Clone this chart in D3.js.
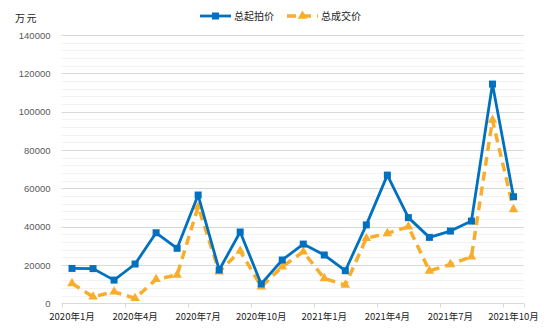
<!DOCTYPE html>
<html><head><meta charset="utf-8">
<script src="https://cdn.jsdelivr.net/npm/d3@7/dist/d3.min.js"></script>
<style>body{margin:0;background:#fff}svg{display:block}</style>
</head><body>
<svg id="c" width="554" height="332"></svg>
<script>
const months = ["2020年1月","2020年2月","2020年3月","2020年4月","2020年5月","2020年6月","2020年7月","2020年8月","2020年9月","2020年10月","2020年11月","2020年12月","2021年1月","2021年2月","2021年3月","2021年4月","2021年5月","2021年6月","2021年7月","2021年8月","2021年9月","2021年10月"];
const startPrice = [18200,18100,12100,20500,36800,28700,56500,17400,37200,10100,22600,30900,25200,17000,40900,66900,44700,34400,37700,42900,114400,55600];
const dealPrice = [10400,3400,6000,2600,12500,14800,50400,16500,27300,8700,19100,26900,13000,9500,33900,36500,40000,16900,20300,24300,95600,49000];
const seriesNames = ["总起拍价","总成交价"];
const yTicks = [0,20000,40000,60000,80000,100000,120000,140000];
const unit = "万元";

const svg = d3.select("#c");
const L = 61.5, R = 524, T = 35, B = 303.3;
const x = d3.scaleBand().domain(months).range([L, R]);
const y = d3.scaleLinear().domain([0, 140000]).range([B, T]);
const cx = d => x(d) + x.bandwidth()/2;
const cjk = "'Noto Sans CJK SC', sans-serif";

// minor grid
const minor = d3.range(0, 140001, 4000).filter(v => v % 20000 !== 0);
svg.append("g").selectAll("line").data(minor).join("line")
  .attr("x1", L).attr("x2", R).attr("y1", d => Math.round(y(d))+0.5).attr("y2", d => Math.round(y(d))+0.5)
  .attr("stroke", "#F2F2F2").attr("stroke-width", 1);
// major grid
svg.append("g").selectAll("line").data(yTicks.slice(1)).join("line")
  .attr("x1", L).attr("x2", R).attr("y1", d => Math.round(y(d))+0.5).attr("y2", d => Math.round(y(d))+0.5)
  .attr("stroke", "#D9D9D9").attr("stroke-width", 1);

// y axis labels
const yAxis = d3.axisLeft(y).tickValues(yTicks).tickSize(0).tickPadding(11).tickFormat(d3.format("d"));
const gy = svg.append("g").attr("transform", `translate(${L},0)`).call(yAxis);
gy.select(".domain").remove();
gy.selectAll("text").attr("font-family", "'Liberation Sans', Arial, sans-serif").attr("font-size", 9.5).attr("fill", "#595959");

// x axis
const gx = svg.append("g").attr("transform", `translate(0,${Math.round(B)+0.5})`);
gx.append("line").attr("x1", L).attr("x2", R).attr("stroke", "#D9D9D9");
const tickMonths = months.filter((d,i) => i % 3 === 0);
gx.selectAll("line.t").data(tickMonths.concat([null])).join("line").attr("class","t")
  .attr("x1", d => Math.round(d ? x(d) : R)+0.5).attr("x2", d => Math.round(d ? x(d) : R)+0.5)
  .attr("y1", 0).attr("y2", 4).attr("stroke", "#D9D9D9");
gx.selectAll("text").data(tickMonths).join("text")
  .attr("x", d => cx(d)).attr("y", 16.5).attr("text-anchor", "middle")
  .attr("font-family", cjk).attr("font-size", 9.5).attr("fill", "#222").text(d => d);

// unit
svg.append("text").attr("x", 15).attr("y", 22).attr("font-family", cjk).attr("font-size", 10)
  .attr("letter-spacing", 1.5).attr("fill", "#222").text(unit);

const blue = "#0070C0", orange = "#F8AE2C";
const line = d3.line().x(d => cx(d.m)).y(d => y(d.v));
const s1 = months.map((m,i) => ({m, v: startPrice[i]}));
const s2 = months.map((m,i) => ({m, v: dealPrice[i]}));

svg.append("path").datum(s2).attr("d", line).attr("fill","none").attr("stroke", orange)
  .attr("stroke-width", 3.5).attr("stroke-dasharray", "9,6").attr("stroke-linejoin","round");
const tri = d3.symbol().type(d3.symbolTriangle).size(40);
svg.append("g").selectAll("path").data(s2).join("path").attr("d", tri)
  .attr("transform", d => `translate(${cx(d.m)},${y(d.v)})`).attr("fill", orange);

svg.append("path").datum(s1).attr("d", line).attr("fill","none").attr("stroke", blue)
  .attr("stroke-width", 2.8).attr("stroke-linejoin","round");
svg.append("g").selectAll("rect").data(s1).join("rect")
  .attr("x", d => cx(d.m)-3.5).attr("y", d => y(d.v)-3.5).attr("width", 7).attr("height", 7).attr("fill", blue);

// legend
const lg = svg.append("g");
lg.append("line").attr("x1", 200).attr("x2", 231).attr("y1", 16).attr("y2", 16).attr("stroke", blue).attr("stroke-width", 2.8);
lg.append("rect").attr("x", 212).attr("y", 12.5).attr("width", 7).attr("height", 7).attr("fill", blue);
lg.append("text").attr("x", 234).attr("y", 19.5).attr("font-family", cjk).attr("font-size", 10).attr("fill","#222").text(seriesNames[0]);
lg.append("line").attr("x1", 287).attr("x2", 318).attr("y1", 16).attr("y2", 16).attr("stroke", orange).attr("stroke-width", 3.5).attr("stroke-dasharray","9,6");
lg.append("path").attr("d", tri).attr("transform","translate(302.5,16)").attr("fill", orange);
lg.append("text").attr("x", 321).attr("y", 19.5).attr("font-family", cjk).attr("font-size", 10).attr("fill","#222").text(seriesNames[1]);
</script>
</body></html>
